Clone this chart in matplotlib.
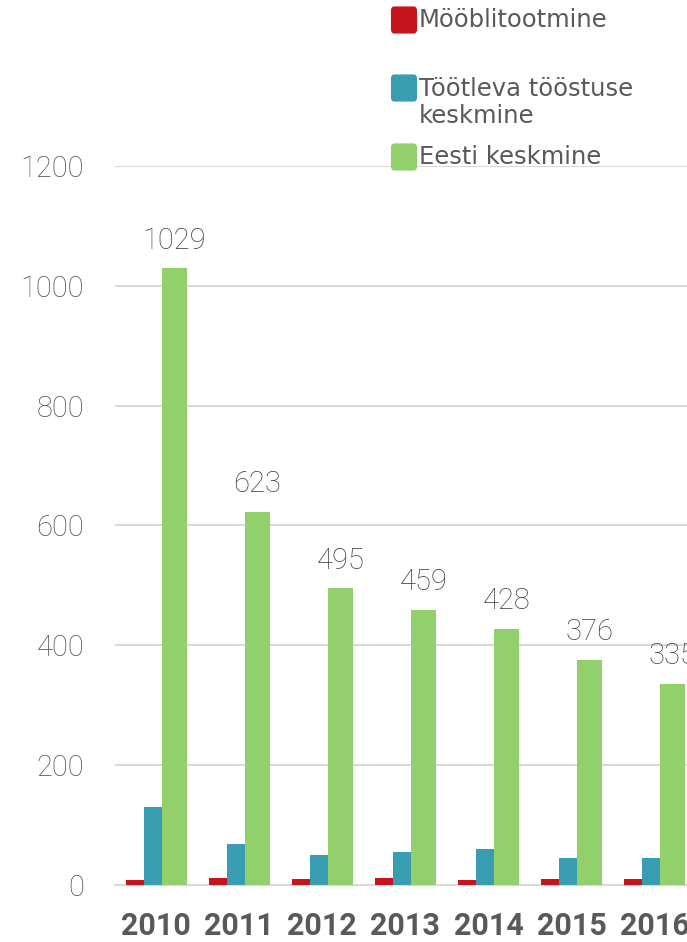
import numpy as np
from matplotlib import pyplot as plt
from matplotlib.patches import FancyBboxPatch

years = ['2010', '2011', '2012', '2013', '2014', '2015', '2016']
mooblitootmine = [8, 12, 10, 12, 8, 10, 10]
tootlev = [130, 68, 50, 55, 60, 45, 45]
eesti = [1029, 623, 495, 459, 428, 376, 335]

series_names = ['Mööblitootmine', 'Töötleva tööstuse\nkeskmine', 'Eesti keskmine']
colors = ['#C7131A', '#389DB0', '#92D06B']

fig = plt.figure(figsize=(6.87, 9.42), dpi=100)
ax = fig.add_axes([0.167, 0.0605, 0.833, 0.7633])

x = np.arange(len(years))
ax.bar(x - 0.259, mooblitootmine, width=0.217, color=colors[0], zorder=3)
ax.bar(x - 0.042, tootlev, width=0.217, color=colors[1], zorder=3)
bars = ax.bar(x + 0.217, eesti, width=0.30, color=colors[2], zorder=3)

for xi, v in zip(x, eesti):
    ax.annotate(str(v), (xi + 0.217, v), xytext=(0, 10), textcoords='offset points',
                ha='center', va='bottom', fontsize=21, family='Roboto', fontweight='light',
                color='#404040', annotation_clip=False)

ax.set_ylim(0, 1200)
ax.set_xlim(-0.5, 6.39)
ax.set_yticks(np.arange(0, 1201, 200))
ax.yaxis.grid(True, color='#D9D9D9', linewidth=1.5, zorder=0)
ax.set_axisbelow(True)
for s in ['top', 'right', 'left']:
    ax.spines[s].set_visible(False)
ax.spines['bottom'].set_color('#D9D9D9')
ax.spines['bottom'].set_linewidth(1.5)
ax.tick_params(length=0)
ax.tick_params(axis='y', pad=22)
ax.tick_params(axis='x', pad=19)
ax.set_xticks(x)
ax.set_xticklabels(years, fontsize=22, fontweight='bold', family='Roboto', color='#595959')
for lbl in ax.get_yticklabels():
    lbl.set_fontsize(21)
    lbl.set_family('Roboto')
    lbl.set_fontweight('light')
    lbl.set_color('#505050')

# legend, placed by hand like the original
W, H = 687, 942
legend_y = [20, 88, 157]
for name, c, ly in zip(series_names, colors, legend_y):
    fig.patches.append(FancyBboxPatch((393 / W, 1 - (ly + 11) / H), 22 / W, 22 / H,
                                      boxstyle='round,pad=0.002,rounding_size=0.004',
                                      transform=fig.transFigure, color=c))
    fig.text(419 / W, 1 - (ly - 11) / H if '\n' in name else 1 - ly / H, name,
             fontsize=17.5, family='DejaVu Sans', color='#595959',
             va='top' if '\n' in name else 'center', ha='left', linespacing=1.15)

fig.savefig('out.png', dpi=100)
